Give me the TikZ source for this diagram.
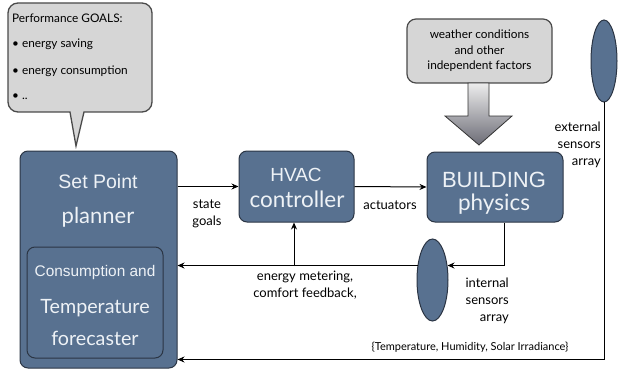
\documentclass[tikz,border=0pt]{standalone}
\usepackage{fontspec}
\setmainfont{Lato}
\newfontfamily\helv{Liberation Sans}
\usetikzlibrary{shapes.geometric,arrows.meta,calc}
\definecolor{boxblue}{HTML}{587190}
\definecolor{boxedge}{HTML}{2B3544}
\definecolor{boxtext}{HTML}{EEF2F6}
\definecolor{greyfill}{HTML}{D6D6D6}
\definecolor{greyedge}{HTML}{4A4A4A}
\definecolor{arrowtop}{HTML}{EDEDED}
\definecolor{arrowbot}{HTML}{6C6C76}
\tikzset{
  bluebox/.style={draw=boxedge, fill=boxblue, line width=1pt, rounded corners=8pt, inner sep=0pt},
  greybox/.style={draw=greyedge, fill=greyfill, line width=1.2pt, rounded corners=9pt, inner sep=0pt},
  sensor/.style={ellipse, draw=boxedge, fill=boxblue, line width=1pt, inner sep=0pt},
  boxlabel/.style={text=boxtext, inner sep=0pt, anchor=center},
  lbl/.style={inner sep=0pt, font=\fontsize{13}{17}\selectfont, text=black},
  goal/.style={inner sep=0pt, anchor=west, font=\fontsize{11.8}{13}\selectfont},
  conn/.style={line width=1pt, -{Stealth[length=7pt,width=6pt]}},
}
\begin{document}
\begin{tikzpicture}[x=1pt,y=-1pt]
\useasboundingbox (0,0) rectangle (619,369);
% speech bubble
\draw[greyedge, fill=greyfill, line width=1.3pt, rounded corners=10pt]
  (84,112) -- (152,112) -- (152,3) -- (8,3) -- (8,112) [sharp corners] -- (70,112) -- (76,146) -- (84,112) -- cycle;
\node[goal] (goals) at (12,18) {Performance GOALS:};
\node[goal] (g1) at (12,44) {\textbullet\ energy saving};
\node[goal] (g2) at (12,71) {\textbullet\ energy consumption};
\node[goal] (g3) at (12,97) {\textbullet\ ..};
% set point planner
\node[bluebox, minimum width=157pt, minimum height=217pt] (sp) at (98.5,259.5) {};
\node[boxlabel, font=\helv\fontsize{19.5}{22}\selectfont] (spt1) at (98,182) {Set Point};
\node[boxlabel, font=\fontsize{22}{26}\selectfont] (spt2) at (98,217) {planner};
\node[bluebox, minimum width=136pt, minimum height=111pt] (fc) at (95,302.5) {};
\node[boxlabel, font=\helv\fontsize{15.4}{18}\selectfont] (fct1) at (95,273) {Consumption and};
\node[boxlabel, font=\fontsize{19.7}{23}\selectfont] (fct2) at (95,308) {Temperature};
\node[boxlabel, font=\fontsize{19.7}{23}\selectfont] (fct3) at (95,338) {forecaster};
% HVAC
\node[bluebox, minimum width=115pt, minimum height=71pt] (hv) at (296.5,186.5) {};
\node[boxlabel, font=\helv\fontsize{19}{22}\selectfont] (hvt1) at (296,175) {HVAC};
\node[boxlabel, font=\fontsize{22.5}{26}\selectfont] (hvt2) at (297,199) {controller};
% BUILDING
\node[bluebox, minimum width=136pt, minimum height=70pt] (bd) at (495,187) {};
\node[boxlabel, font=\helv\fontsize{22}{25}\selectfont] (bdt1) at (494,180) {BUILDING};
\node[boxlabel, font=\fontsize{22.5}{26}\selectfont] (bdt2) at (494,204) {physics};
% weather
\node[greybox, minimum width=145pt, minimum height=64pt, align=center, font=\fontsize{11.8}{15.5}\selectfont] (wb) at (479.5,51) {weather conditions\\and other\\independent factors};
% big arrow
\draw[top color=arrowtop, bottom color=arrowbot, draw=black!80, line width=0.8pt]
  (468,83) -- (489,83) -- (489,116) -- (512,116) -- (479,145) -- (445,116) -- (468,116) -- cycle;
% sensors
\node[sensor, minimum width=26pt, minimum height=82pt] (ex) at (604,61) {};
\node[sensor, minimum width=31pt, minimum height=82pt] (in) at (432.5,280) {};
% connectors
\draw[conn] (hv.west -| sp.east) -- (hv.west);
\draw[conn] (hv.east) -- (bd.west);
\draw[conn] ([xshift=9pt]bd.south) |- (in.44);
\draw[conn] (in.136) -- (in.136 -| sp.east);
\coordinate (j) at (294,266);
\draw[conn] (j) -- (j |- hv.south);
\draw[conn] (ex.south) |- ([yshift=9pt]sp.south east);
% labels
\node[lbl, align=center] (sg) at (207,213.5) {state\\goals};
\node[lbl] (act) at (390,205) {actuators};
\node[lbl, align=center] (em) at (305,285) {energy metering,\\comfort feedback,};
\node[lbl, align=right, anchor=east] (isa) at (509,300.5) {internal\\sensors\\array};
\node[lbl, align=right, anchor=east] (esa) at (601,144.5) {external\\sensors\\array};
\node[inner sep=0pt, font=\fontsize{11}{13}\selectfont] (tl) at (470,347) {\{Temperature, Humidity, Solar Irradiance\}};
\end{tikzpicture}
\end{document}
